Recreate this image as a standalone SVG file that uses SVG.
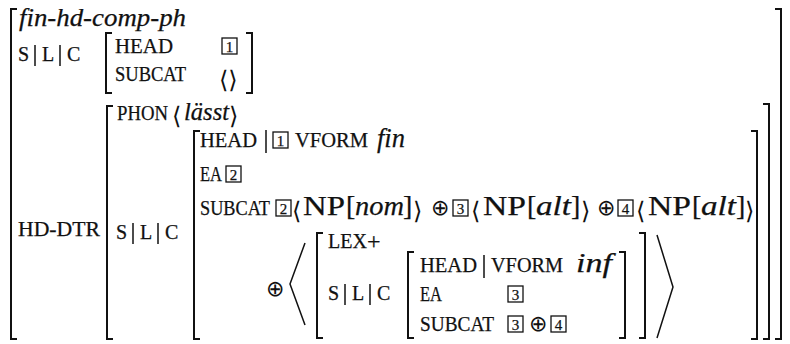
<svg xmlns="http://www.w3.org/2000/svg" width="790" height="344" viewBox="0 0 790 344">
<style>
text{font-family:"Liberation Serif","Times New Roman",serif;fill:#111;stroke:#111;stroke-width:0.25}
.sc{font-size:20px}
.it{font-style:italic}
.big{font-size:28px}
.ang{font-family:"DejaVu Serif","DejaVu Sans",serif;font-size:24px;stroke-width:0}
.op{font-family:"DejaVu Sans",sans-serif;font-size:22px;stroke-width:0}
.br{fill:none;stroke:#111;stroke-width:2}
.thin{fill:none;stroke:#111;stroke-width:1.5}
.bar{stroke:#111;stroke-width:1.5}
.tag rect{fill:none;stroke:#111;stroke-width:1.3}
.tag text{font-size:15px;text-anchor:middle}
</style>
<defs>
<g id="t1" class="tag"><rect x="0" y="0" width="15" height="16"/><text x="7.5" y="13.5">1</text></g>
<g id="t2" class="tag"><rect x="0" y="0" width="15" height="16"/><text x="7.5" y="13.5">2</text></g>
<g id="t3" class="tag"><rect x="0" y="0" width="15" height="16"/><text x="7.5" y="13.5">3</text></g>
<g id="t4" class="tag"><rect x="0" y="0" width="15" height="16"/><text x="7.5" y="13.5">4</text></g>
</defs>

<g id="outer">
<path class="br" d="M17,9 H11 V339 H17"/>
<path class="br" d="M775,9 H781 V339 H775"/>
<text class="it" x="19" y="26" font-size="26" textLength="167" lengthAdjust="spacingAndGlyphs">fin-hd-comp-ph</text>
</g>

<g id="slc1">
<text class="sc" x="18" y="61">S</text>
<line class="bar" x1="35" y1="45" x2="35" y2="66"/>
<text class="sc" x="42" y="61">L</text>
<line class="bar" x1="60" y1="45" x2="60" y2="66"/>
<text class="sc" x="67" y="61">C</text>
</g>

<g id="mother-slc">
<path class="br" d="M112,33 H106 V93 H112"/>
<path class="br" d="M246,33 H252 V93 H246"/>
<text class="sc" x="115" y="53" textLength="58" lengthAdjust="spacingAndGlyphs">HEAD</text>
<use href="#t1" x="222" y="38"/>
<text class="sc" x="115" y="81" textLength="71" lengthAdjust="spacingAndGlyphs">SUBCAT</text>
<text class="ang" x="219" y="88" font-size="30">⟨⟩</text>
</g>

<g id="hd-dtr">
<text class="sc" x="18" y="236" textLength="82" lengthAdjust="spacingAndGlyphs">HD-DTR</text>
<path class="br" d="M113,106 H107 V339 H113"/>
<path class="br" d="M763,104 H769 V339 H763"/>
<text class="sc" x="117" y="120" textLength="51" lengthAdjust="spacingAndGlyphs">PHON</text>
<text class="ang" x="172" y="124" font-size="29">⟨</text>
<text class="it" x="184" y="120" font-size="25" textLength="45" lengthAdjust="spacingAndGlyphs">lässt</text>
<text class="ang" x="229" y="124" font-size="29">⟩</text>
</g>

<g id="slc2">
<text class="sc" x="116" y="239">S</text>
<line class="bar" x1="133" y1="223" x2="133" y2="244"/>
<text class="sc" x="140" y="239">L</text>
<line class="bar" x1="158" y1="223" x2="158" y2="244"/>
<text class="sc" x="165" y="239">C</text>
</g>

<g id="cat">
<path class="br" d="M200,131 H194 V339 H200"/>
<path class="br" d="M751,131 H757 V339 H751"/>
<text class="sc" x="200" y="147" textLength="57" lengthAdjust="spacingAndGlyphs">HEAD</text>
<line class="bar" x1="266" y1="130" x2="266" y2="153"/>
<use href="#t1" x="273" y="132"/>
<text class="sc" x="295" y="147" textLength="73" lengthAdjust="spacingAndGlyphs">VFORM</text>
<text class="it" x="377" y="147" font-size="28" textLength="28" lengthAdjust="spacingAndGlyphs">fin</text>

<text class="sc" x="200" y="181" textLength="22" lengthAdjust="spacingAndGlyphs">EA</text>
<use href="#t2" x="226" y="166"/>

<text class="sc" x="200" y="215" textLength="70" lengthAdjust="spacingAndGlyphs">SUBCAT</text>
<use href="#t2" x="276" y="200"/>
<text class="ang" x="292" y="219" font-size="31">⟨</text>
<text class="big" x="303" y="215" textLength="42" lengthAdjust="spacingAndGlyphs">NP</text>
<text class="big" x="346" y="215">[</text>
<text class="big it" x="355" y="215" textLength="49" lengthAdjust="spacingAndGlyphs">nom</text>
<text class="big" x="403" y="215">]</text>
<text class="ang" x="413" y="219" font-size="31">⟩</text>
<text class="op" x="431" y="215">⊕</text>
<use href="#t3" x="453" y="200"/>
<text class="ang" x="471" y="219" font-size="31">⟨</text>
<text class="big" x="483" y="215" textLength="43" lengthAdjust="spacingAndGlyphs">NP</text>
<text class="big" x="527" y="215">[</text>
<text class="big it" x="536" y="215" textLength="35" lengthAdjust="spacingAndGlyphs">alt</text>
<text class="big" x="571" y="215">]</text>
<text class="ang" x="581" y="219" font-size="31">⟩</text>
<text class="op" x="597" y="215">⊕</text>
<use href="#t4" x="618" y="200"/>
<text class="ang" x="636" y="219" font-size="31">⟨</text>
<text class="big" x="648" y="215" textLength="43" lengthAdjust="spacingAndGlyphs">NP</text>
<text class="big" x="692" y="215">[</text>
<text class="big it" x="701" y="215" textLength="35" lengthAdjust="spacingAndGlyphs">alt</text>
<text class="big" x="736" y="215">]</text>
<text class="ang" x="745" y="219" font-size="31">⟩</text>
</g>

<g id="comp-list">
<text class="op" x="266" y="296">⊕</text>
<polyline class="thin" points="305,243 290,284 305,325"/>
<path class="br" d="M323,233 H317 V338 H323"/>
<path class="br" d="M639,233 H645 V338 H639"/>
<polyline class="thin" points="657,235 673,287 657,338"/>
<text class="sc" x="328" y="248">LEX<tspan font-size="24" dy="1">+</tspan></text>
<text class="sc" x="328" y="300">S</text>
<line class="bar" x1="345" y1="284" x2="345" y2="305"/>
<text class="sc" x="352" y="300">L</text>
<line class="bar" x1="370" y1="284" x2="370" y2="305"/>
<text class="sc" x="377" y="300">C</text>
</g>

<g id="comp-cat">
<path class="br" d="M414,252 H408 V338 H414"/>
<path class="br" d="M619,252 H625 V338 H619"/>
<text class="sc" x="420" y="272" textLength="57" lengthAdjust="spacingAndGlyphs">HEAD</text>
<line class="bar" x1="484" y1="255" x2="484" y2="278"/>
<text class="sc" x="491" y="272" textLength="72" lengthAdjust="spacingAndGlyphs">VFORM</text>
<text class="it" x="576" y="272" font-size="27" textLength="36" lengthAdjust="spacingAndGlyphs">inf</text>
<text class="sc" x="420" y="301" textLength="22" lengthAdjust="spacingAndGlyphs">EA</text>
<use href="#t3" x="508" y="286"/>
<text class="sc" x="420" y="331" textLength="74" lengthAdjust="spacingAndGlyphs">SUBCAT</text>
<use href="#t3" x="508" y="316"/>
<text class="op" x="529" y="331">⊕</text>
<use href="#t4" x="551" y="316"/>
</g>
</svg>
